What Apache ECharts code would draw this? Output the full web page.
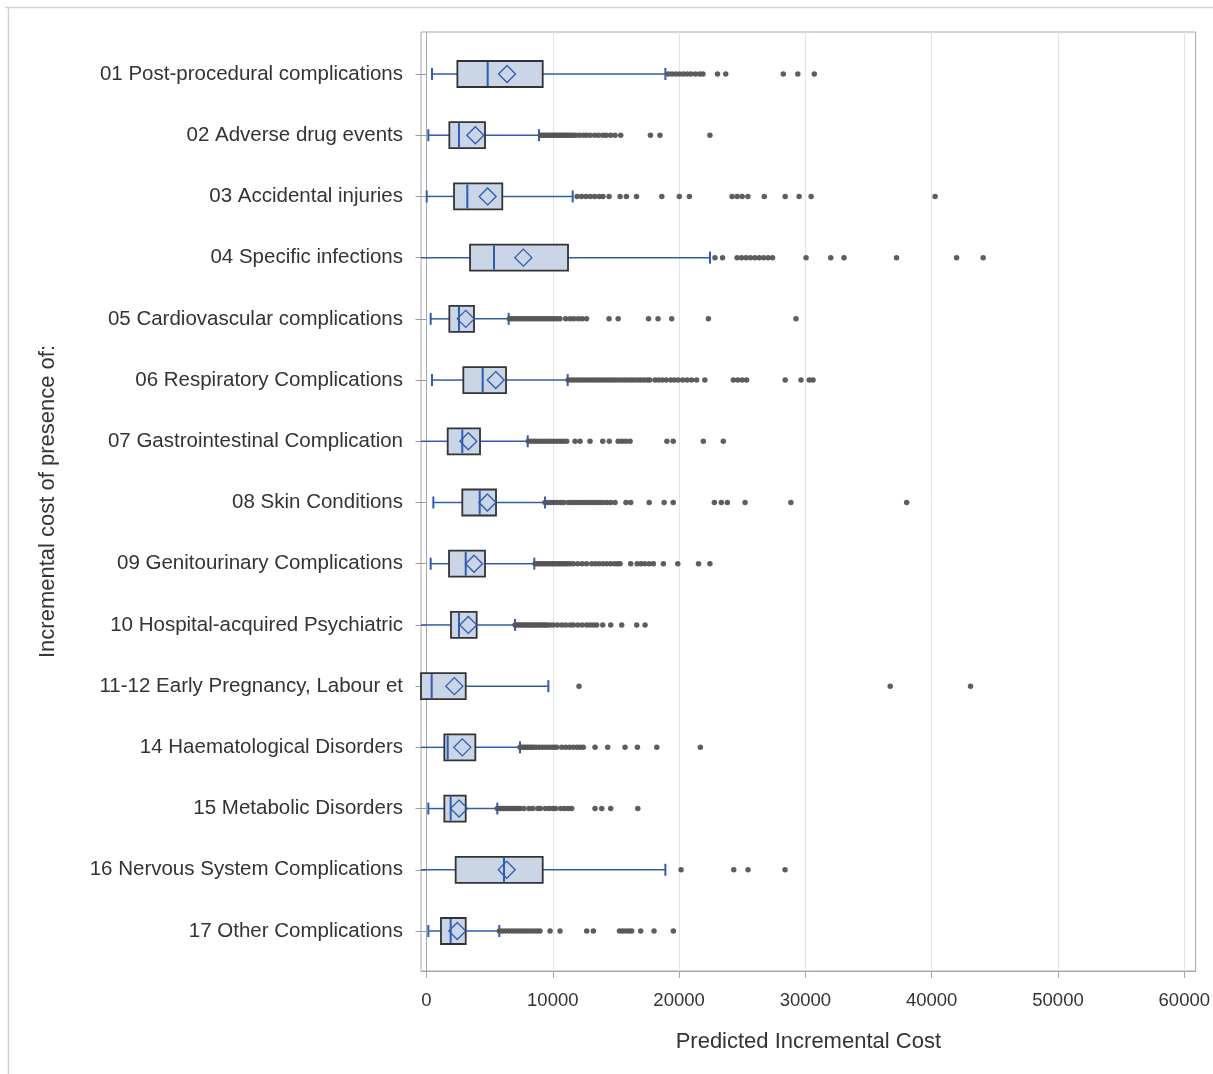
<!DOCTYPE html>
<html>
<head>
<meta charset="utf-8">
<title>Predicted Incremental Cost by complication</title>
<script src="https://cdn.jsdelivr.net/npm/echarts@6/dist/echarts.min.js"></script>
<style>
  html, body { margin: 0; padding: 0; background: #fff; }
  #chart { width: 1213px; height: 1074px; }
</style>
</head>
<body>
<div id="chart"></div>
<script>
// Complication groups, top to bottom
const categories = [
  '01 Post-procedural complications',
  '02 Adverse drug events',
  '03 Accidental injuries',
  '04 Specific infections',
  '05 Cardiovascular complications',
  '06 Respiratory Complications',
  '07 Gastrointestinal Complication',
  '08 Skin Conditions',
  '09 Genitourinary Complications',
  '10 Hospital-acquired Psychiatric',
  '11-12 Early Pregnancy, Labour et',
  '14 Haematological Disorders',
  '15 Metabolic Disorders',
  '16 Nervous System Complications',
  '17 Other Complications'
];

// Box statistics per group (same order as categories)
const lowWhisker  = [435, 145, 15, -900, 330, 435, -800, 540, 330, -700, -3000, -600, 145, -1500, 145];
const lowerQuart  = [2440, 1805, 2175, 3440, 1805, 2910, 1675, 2830, 1780, 1935, -1200, 1410, 1410, 2305, 1145];
const medians     = [4835, 2570, 3225, 5335, 2570, 4440, 2830, 4205, 3100, 2570, 410, 1675, 1910, 6125, 1910];
const upperQuart  = [9185, 4625, 5990, 11185, 3755, 6285, 4230, 5495, 4625, 3965, 3100, 3860, 3100, 9185, 3100];
const highWhisker = [18880, 8895, 11555, 22410, 6495, 11160, 8000, 9370, 8520, 7000, 9630, 7390, 5600, 18880, 5755];
const means       = [6365, 3860, 4835, 7655, 3100, 5470, 3305, 4810, 3755, 3305, 2200, 2830, 2570, 6340, 2435];

// Outlying observations per group
const outliers = [
  [19100, 19400, 19700, 20000, 20300, 20600, 20900, 21250, 21600, 21850, 23000, 23650, 28200, 29350, 30650],
  [9000, 9150, 9300, 9450, 9600, 9750, 9900, 10050, 10200, 10350, 10500, 10650, 10800, 10950, 11100, 11250, 11400, 11600,
   11800, 12100, 12400, 12650, 12950, 13300, 13600, 13950, 14200, 14550, 14900, 15350, 17700, 18450, 22400],
  [11900, 12250, 12600, 12950, 13300, 13650, 13950, 14430, 15300, 15800, 16600, 18600, 19980, 20780,
   24150, 24550, 24950, 25400, 26700, 28350, 29450, 30400, 40200],
  [22800, 23400, 24550, 24900, 25250, 25600, 25950, 26300, 26650, 27000, 27350,
   30000, 31950, 33000, 37150, 41900, 44000],
  [6550, 6750, 6950, 7150, 7350, 7550, 7750, 7950, 8150, 8350, 8550, 8750, 8950, 9150, 9350, 9550, 9750, 9950, 10150,
   10350, 10550, 11000, 11350, 11650, 12000, 12300, 12650, 14430, 15150, 17550, 18300, 19380, 22280, 29200],
  [11200, 11450, 11700, 11950, 12200, 12450, 12700, 12950, 13200, 13450, 13700, 13950, 14200, 14450, 14700, 14950,
   15200, 15450, 15700, 15950, 16200, 16450, 16700, 16950, 17200, 17450, 17650, 18070, 18350, 18650, 18950, 19300,
   19600, 19900, 20250, 20600, 20950, 21350, 22000, 24250, 24600, 24950, 25300, 28350, 29600, 30250, 30550],
  [8050, 8300, 8550, 8800, 9050, 9300, 9550, 9800, 10050, 10300, 10550, 10800, 11080,
   11740, 12135, 12925, 13930, 14450, 15150, 15450, 15750, 16090, 19000, 19500, 21880, 23460],
  [9370, 9600, 9850, 10100, 10350, 10600, 10850, 11200, 11450, 11700, 11950, 12200, 12450, 12700, 12950,
   13200, 13450, 13700, 13950, 14250, 14550, 14900, 15770, 16140, 17600, 18780, 19500, 22750, 23300, 23780,
   25180, 28800, 37950],
  [8580, 8750, 8900, 9050, 9200, 9350, 9500, 9650, 9800, 9950, 10100, 10250, 10400, 10550, 10700, 10850, 11000,
   11150, 11345, 11600, 11950, 12300, 12650, 13060, 13350, 13650, 13950, 14250, 14550, 14850, 15100,
   15300, 16140, 16650, 16950, 17250, 17600, 17930, 18720, 19860, 21500, 22400],
  [7000, 7150, 7300, 7450, 7600, 7750, 7900, 8050, 8200, 8350, 8500, 8650, 8800, 8950, 9100, 9250, 9400, 9550, 9765,
   10025, 10350, 10700, 11000, 11345, 11600, 11950, 12300, 12660, 12925, 13200, 13455, 13930, 14560, 15430, 16615, 17275],
  [12055, 36650, 43000],
  [7390, 7550, 7700, 7850, 8000, 8150, 8300, 8450, 8650, 8900, 9150, 9400, 9650, 9900, 10100,
   10290, 10685, 11000, 11300, 11600, 11900, 12150, 12395, 13320, 14320, 15690, 16670, 18200, 21645],
  [5600, 5750, 5900, 6050, 6200, 6350, 6500, 6650, 6800, 6950, 7100, 7250, 7400, 7700, 8100, 8400, 8800, 9000,
   9400, 9700, 10000, 10200, 10600, 10900, 11200, 11475, 13320, 13850, 14560, 16700],
  [20120, 24285, 25415, 28340],
  [5755, 6000, 6250, 6500, 6750, 7000, 7250, 7500, 7750, 8000, 8250, 8500, 8750, 8970,
   9765, 10555, 12660, 13185, 15250, 15500, 15750, 16000, 16220, 16930, 17985, 19510]
];

// Cost axis
const xTicks = [0, 10000, 20000, 30000, 40000, 50000, 60000];
const X_MIN = -435;
const X_MAX = 60900;

const FONT = '"Liberation Sans", Arial, Helvetica, sans-serif';
const BLUE = '#2b5cb8';
const BOX_FILL = '#cad5e6';
const BOX_EDGE = '#333333';
const FRAME = '#a4a8ac';

const boxData = categories.map((c, i) =>
  [i, lowWhisker[i], lowerQuart[i], medians[i], upperQuart[i], highWhisker[i], means[i]]);

const outlierData = [];
outliers.forEach((list, i) => list.forEach(v => outlierData.push([v, i])));

function renderBox(params, api) {
  const row = api.value(0);
  const clampX = v => Math.max(X_MIN, Math.min(X_MAX, v));
  const pt = v => api.coord([clampX(v), row]);
  const lo = pt(api.value(1)), q1 = pt(api.value(2)), md = pt(api.value(3));
  const q3 = pt(api.value(4)), hi = pt(api.value(5)), mn = pt(api.value(6));
  const y = md[1];
  const halfBox = 13, halfCap = 6, d = 8.5;
  const lineStyle = { stroke: BLUE, lineWidth: 1.5 };
  const children = [];
  // whiskers
  children.push({ type: 'line', shape: { x1: lo[0], y1: y, x2: q1[0], y2: y }, style: lineStyle });
  children.push({ type: 'line', shape: { x1: q3[0], y1: y, x2: hi[0], y2: y }, style: lineStyle });
  // whisker caps (only when inside the axis range)
  if (api.value(1) >= X_MIN) {
    children.push({ type: 'line', shape: { x1: lo[0], y1: y - halfCap, x2: lo[0], y2: y + halfCap }, style: { stroke: BLUE, lineWidth: 2 } });
  }
  children.push({ type: 'line', shape: { x1: hi[0], y1: y - halfCap, x2: hi[0], y2: y + halfCap }, style: { stroke: BLUE, lineWidth: 2 } });
  // interquartile box
  children.push({ type: 'rect', shape: { x: q1[0], y: y - halfBox, width: q3[0] - q1[0], height: 2 * halfBox },
    style: { fill: BOX_FILL, stroke: BOX_EDGE, lineWidth: 1.8 } });
  // median
  children.push({ type: 'line', shape: { x1: md[0], y1: y - halfBox + 1, x2: md[0], y2: y + halfBox - 1 }, style: { stroke: BLUE, lineWidth: 2 } });
  // mean marker
  children.push({ type: 'polygon', shape: { points: [[mn[0], y - d], [mn[0] + d, y], [mn[0], y + d], [mn[0] - d, y]] },
    style: { fill: 'none', stroke: BLUE, lineWidth: 1.3 } });
  return { type: 'group', children };
}

const chart = echarts.init(document.getElementById('chart'), null, { renderer: 'canvas' });

chart.setOption({
  backgroundColor: '#ffffff',
  animation: false,
  textStyle: { fontFamily: FONT },
  graphic: [
    { type: 'line', shape: { x1: 5, y1: 7.5, x2: 1213, y2: 7.5 }, style: { stroke: '#d2d2d2', lineWidth: 1.5 }, silent: true },
    { type: 'line', shape: { x1: 8.5, y1: 7, x2: 8.5, y2: 1074 }, style: { stroke: '#d2d2d2', lineWidth: 1.5 }, silent: true }
  ],
  grid: [
    { left: 421, top: 32, width: 776, height: 939, show: true, borderColor: FRAME, borderWidth: 1, backgroundColor: 'transparent' },
    { left: 421, top: 43.4, width: 776, height: 918.2 }
  ],
  xAxis: [
    {
      gridIndex: 0, type: 'value', min: X_MIN, max: X_MAX,
      name: 'Predicted Incremental Cost', nameLocation: 'middle', nameGap: 60,
      nameTextStyle: { fontSize: 22, color: '#333', fontFamily: FONT },
      axisLine: { show: true, lineStyle: { color: FRAME } },
      axisTick: { show: true, length: 7, customValues: xTicks, lineStyle: { color: FRAME } },
      axisLabel: { customValues: xTicks, formatter: v => String(v), fontSize: 18.5, color: '#333', margin: 20, fontFamily: FONT },
      splitLine: { show: true, lineStyle: { color: '#e4e4e4', width: 1 } }
    },
    { gridIndex: 1, type: 'value', min: X_MIN, max: X_MAX, show: false, splitLine: { show: false } }
  ],
  yAxis: [
    {
      gridIndex: 0, type: 'value', min: 0, max: 1,
      name: 'Incremental cost of presence of:', nameLocation: 'middle', nameGap: 362, nameRotate: 90,
      nameTextStyle: { fontSize: 22, color: '#333', fontFamily: FONT },
      axisLine: { show: true, lineStyle: { color: FRAME } },
      axisTick: { show: false }, axisLabel: { show: false }, splitLine: { show: false }
    },
    {
      gridIndex: 1, type: 'category', data: categories, inverse: true,
      axisLine: { show: false },
      axisTick: { show: true, alignWithLabel: true, length: 11, lineStyle: { color: '#9a9a9a' } },
      axisLabel: { fontSize: 20.5, color: '#333', margin: 18, fontFamily: FONT },
      splitLine: { show: false }
    }
  ],
  series: [
    {
      type: 'custom', name: 'box', xAxisIndex: 1, yAxisIndex: 1,
      renderItem: renderBox, data: boxData,
      encode: { x: [1, 2, 3, 4, 5, 6], y: 0 }, z: 3
    },
    {
      type: 'scatter', name: 'outliers', xAxisIndex: 1, yAxisIndex: 1,
      data: outlierData, symbol: 'circle', symbolSize: 5.5,
      itemStyle: { color: '#555555', opacity: 0.95 }, z: 4
    }
  ]
});
</script>
</body>
</html>
